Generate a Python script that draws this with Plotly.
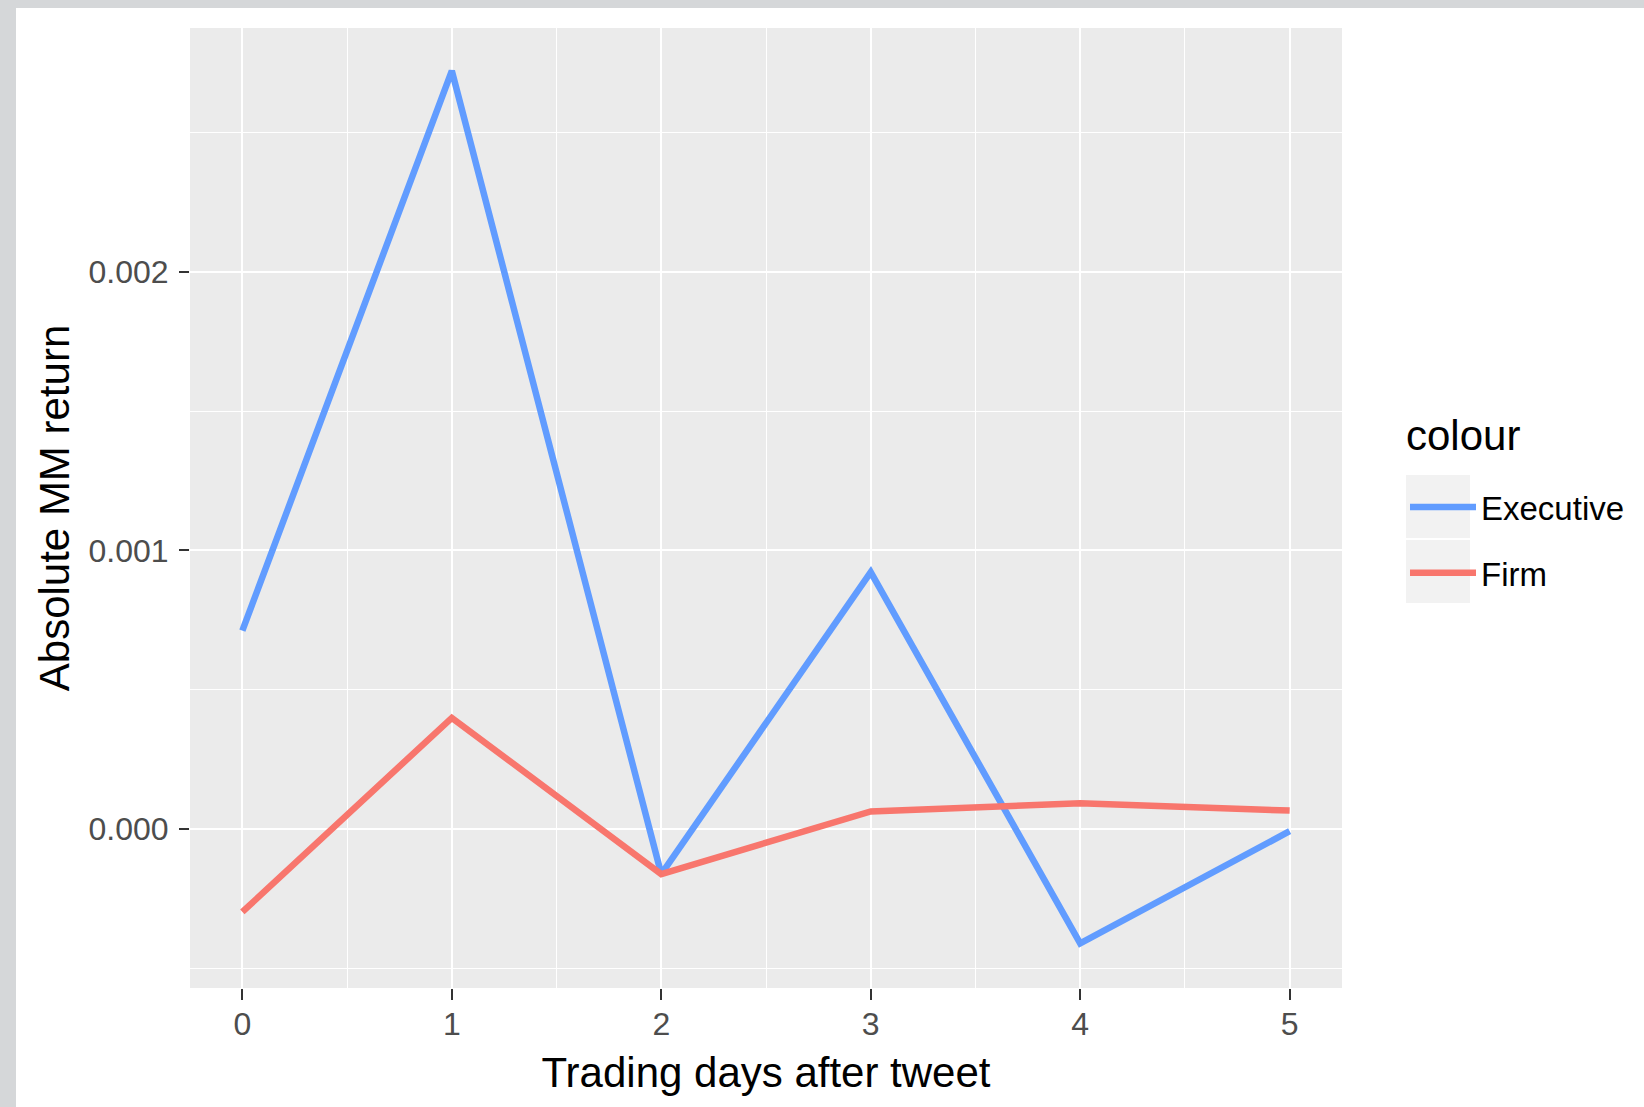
import plotly.graph_objects as go

# ---- data ----
days = [0, 1, 2, 3, 4, 5]
executive = [0.000712, 0.002722, -0.000162, 0.000922, -0.000411, -0.000008]
firm = [-0.000298, 0.000399, -0.000162, 0.000063, 0.000092, 0.000066]
series_names = ["Executive", "Firm"]
x_title = "Trading days after tweet"
y_title = "Absolute MM return"
legend_title = "colour"

# ---- layout geometry (pixels) ----
W, H = 1644, 1107
L, R, T, B = 190, 302, 28, 119
PW, PH = W - L - R, H - T - B

def px(xp):
    return (xp - L) / PW

def py(yp):
    return (H - B - yp) / PH

FONT = "Liberation Sans, Arial, sans-serif"
BLUE = "#619CFF"
RED = "#F8766D"

fig = go.Figure()
fig.add_trace(go.Scatter(x=days, y=executive, mode="lines", name=series_names[0],
                         line=dict(color=BLUE, width=6.5), legendgroup="a"))
fig.add_trace(go.Scatter(x=days, y=firm, mode="lines", name=series_names[1],
                         line=dict(color=RED, width=6.5), legendgroup="b"))

shapes = []
# grey page border strips (left and top)
shapes.append(dict(type="rect", xref="paper", yref="paper", x0=px(0), x1=px(16), y0=py(H), y1=py(0),
                   fillcolor="#d5d7d9", line_width=0, layer="below"))
shapes.append(dict(type="rect", xref="paper", yref="paper", x0=px(0), x1=px(W), y0=py(8), y1=py(0),
                   fillcolor="#d5d7d9", line_width=0, layer="below"))
# legend key backgrounds
for y0, y1 in [(475, 538), (540, 603)]:
    shapes.append(dict(type="rect", xref="paper", yref="paper", x0=px(1406), x1=px(1470),
                       y0=py(y1), y1=py(y0), fillcolor="#f2f2f2", line_width=0, layer="below"))

annotations = [
    dict(text=legend_title, xref="paper", yref="paper", x=px(1404), y=py(435),
         xanchor="left", yanchor="middle", showarrow=False,
         font=dict(size=42, color="black", family=FONT)),
]

fig.update_layout(
    width=W, height=H,
    margin=dict(l=L, r=R, t=T, b=B, pad=0),
    paper_bgcolor="white",
    plot_bgcolor="#ebebeb",
    font=dict(family=FONT, color="black"),
    shapes=shapes,
    annotations=annotations,
    legend=dict(
        font=dict(size=33, color="black"),
        x=px(1405), y=py(479), xanchor="left", yanchor="top",
        bgcolor="rgba(0,0,0,0)", tracegroupgap=20, itemwidth=66,
    ),
    xaxis=dict(
        range=[-0.25, 5.25], tickmode="linear", tick0=0, dtick=1,
        showgrid=True, gridcolor="white", gridwidth=2.4, zeroline=False,
        ticks="outside", ticklen=11, tickwidth=2, tickcolor="#333333",
        tickfont=dict(size=32, color="#4d4d4d"), ticklabelstandoff=-3,
        minor=dict(tickmode="linear", tick0=0.5, dtick=1, showgrid=True,
                   gridcolor="white", gridwidth=1.2, ticks=""),
        title=dict(text=x_title, font=dict(size=42, color="black"), standoff=16),
        showline=False,
    ),
    yaxis=dict(
        range=[-0.000571, 0.002876], tickmode="linear", tick0=0, dtick=0.001,
        tickformat=".3f",
        showgrid=True, gridcolor="white", gridwidth=2.4, zeroline=False,
        ticks="outside", ticklen=10, tickwidth=2, tickcolor="#333333",
        tickfont=dict(size=32, color="#4d4d4d"), ticklabelstandoff=4,
        minor=dict(tickmode="linear", tick0=0.0005, dtick=0.001, showgrid=True,
                   gridcolor="white", gridwidth=1.2, ticks=""),
        title=dict(text=y_title, font=dict(size=42, color="black"), standoff=5),
        showline=False,
    ),
)

fig.write_html("out.html", config={"displayModeBar": False},
               post_script="document.body.style.margin='0';document.body.style.overflow='hidden';")
